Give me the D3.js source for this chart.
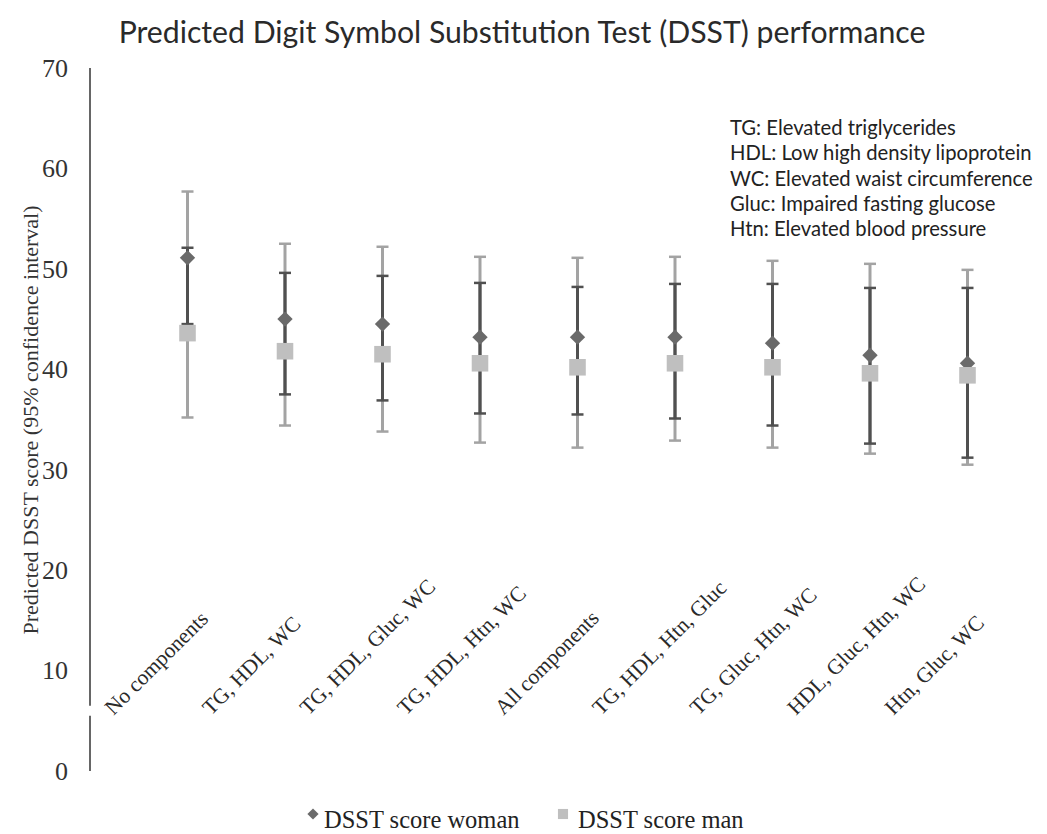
<!DOCTYPE html>
<html>
<head>
<meta charset="utf-8">
<script src="https://cdn.jsdelivr.net/npm/d3@7"></script>
<style>
  body { margin: 0; background: #fff; }
</style>
</head>
<body>
<script>
// data
var categories = ["No components", "TG, HDL, WC", "TG, HDL, Gluc, WC", "TG, HDL, Htn, WC",
  "All components", "TG, HDL, Htn, Gluc", "TG, Gluc, Htn, WC", "HDL, Gluc, Htn, WC", "Htn, Gluc, WC"];
var womanMean = [51.1, 45.0, 44.5, 43.2, 43.2, 43.2, 42.6, 41.4, 40.6];
var womanLow  = [44.5, 37.5, 36.9, 35.6, 35.5, 35.1, 34.4, 32.6, 31.2];
var womanHigh = [57.7, 52.5, 52.2, 51.2, 51.1, 51.2, 50.8, 50.5, 49.9];
var manMean = [43.6, 41.8, 41.5, 40.6, 40.2, 40.6, 40.2, 39.6, 39.4];
var manLow  = [35.2, 34.4, 33.8, 32.7, 32.2, 32.9, 32.2, 31.6, 30.5];
var manHigh = [52.1, 49.6, 49.3, 48.6, 48.2, 48.5, 48.5, 48.1, 48.1];
var yTicks = [0, 10, 20, 30, 40, 50, 60, 70];
var seriesNames = ["DSST score woman", "DSST score man"];
var notes = ["TG: Elevated triglycerides", "HDL: Low high density lipoprotein",
  "WC: Elevated waist circumference", "Gluc: Impaired fasting glucose", "Htn: Elevated blood pressure"];
var axisBreak = [5.5, 6.5];

var width = 1047, height = 834;
var serif = "'Liberation Serif', 'Times New Roman', serif";
var sans = "Lato, 'Open Sans', sans-serif";

var svg = d3.select("body").append("svg")
  .attr("width", width)
  .attr("height", height);

var x = d3.scalePoint().domain(categories).range([90, 1065]).padding(1);
var y = d3.scaleLinear().domain([0, 70]).range([771, 68]);

// title
var title = svg.append("text")
  .attr("x", 522)
  .attr("y", 43)
  .attr("text-anchor", "middle")
  .style("font-family", sans)
  .style("font-size", "24px")
  .style("fill", "#2a2a2a")
  .text("Predicted Digit Symbol Substitution Test (DSST) performance");
// stretch the font size to the width seen in the picture
var tl = title.node().getComputedTextLength();
title.style("font-size", (24 * 807 / tl) + "px");

// y axis, labels only
var yAxis = svg.append("g")
  .attr("transform", "translate(90,0)")
  .call(d3.axisLeft(y).tickValues(yTicks).tickSize(0).tickPadding(22));
yAxis.select(".domain").remove();
yAxis.selectAll("text")
  .style("font-family", serif)
  .style("font-size", "26px")
  .style("fill", "#333");

// axis line with a small break
svg.append("line")
  .attr("x1", 90).attr("x2", 90)
  .attr("y1", y(0)).attr("y2", y(axisBreak[0]))
  .attr("stroke", "#666").attr("stroke-width", 2);
svg.append("line")
  .attr("x1", 90).attr("x2", 90)
  .attr("y1", y(axisBreak[1])).attr("y2", y(70))
  .attr("stroke", "#666").attr("stroke-width", 2);

svg.append("text")
  .attr("transform", "translate(38," + 420 + ") rotate(-90)")
  .attr("text-anchor", "middle")
  .style("font-family", serif)
  .style("font-size", "22px")
  .style("fill", "#333")
  .text("Predicted DSST score (95% confidence interval)");

// category labels, slanted
svg.append("g").selectAll("text")
  .data(categories)
  .enter()
  .append("text")
  .attr("transform", d => "translate(" + (x(d) - 74) + ",716) rotate(-45)")
  .style("font-family", serif)
  .style("font-size", "21.5px")
  .style("fill", "#2a2a2a")
  .text(d => d);

// error bars: both light grey, darker where they overlap
var rows = categories.map(function(c, i) {
  return { cat: c, wm: womanMean[i], wl: womanLow[i], wh: womanHigh[i],
           mm: manMean[i], ml: manLow[i], mh: manHigh[i] };
});
var bars = svg.append("g");
var light = "#a3a3a3", dark = "#505050";

bars.selectAll(".man-bar").data(rows).enter().append("line")
  .attr("x1", d => x(d.cat)).attr("x2", d => x(d.cat))
  .attr("y1", d => y(d.ml)).attr("y2", d => y(d.mh))
  .attr("stroke", light).attr("stroke-width", 3);
bars.selectAll(".woman-bar").data(rows).enter().append("line")
  .attr("x1", d => x(d.cat)).attr("x2", d => x(d.cat))
  .attr("y1", d => y(d.wl)).attr("y2", d => y(d.wh))
  .attr("stroke", light).attr("stroke-width", 3);
bars.selectAll(".overlap").data(rows).enter().append("line")
  .attr("x1", d => x(d.cat)).attr("x2", d => x(d.cat))
  .attr("y1", d => y(Math.max(d.wl, d.ml)))
  .attr("y2", d => y(Math.min(d.wh, d.mh)))
  .attr("stroke", dark).attr("stroke-width", 3);

// caps
var caps = [];
rows.forEach(function(d) {
  var lo = Math.max(d.wl, d.ml), hi = Math.min(d.wh, d.mh);
  [d.wl, d.wh, d.ml, d.mh].forEach(function(v) {
    caps.push({ cat: d.cat, v: v, inside: v >= lo - 0.01 && v <= hi + 0.01 });
  });
});
bars.selectAll(".cap").data(caps).enter().append("line")
  .attr("x1", d => x(d.cat) - 6).attr("x2", d => x(d.cat) + 6)
  .attr("y1", d => y(d.v)).attr("y2", d => y(d.v))
  .attr("stroke", d => d.inside ? dark : light)
  .attr("stroke-width", 2.5);

// markers
var diamond = d3.symbol().type(d3.symbolDiamond2).size(150);
var square = d3.symbol().type(d3.symbolSquare2).size(350);

svg.append("g").selectAll("path")
  .data(rows).enter().append("path")
  .attr("d", diamond)
  .attr("transform", d => "translate(" + x(d.cat) + "," + y(d.wm) + ")")
  .attr("fill", "#6a6a6a");

svg.append("g").selectAll("path")
  .data(rows).enter().append("path")
  .attr("d", square)
  .attr("transform", d => "translate(" + x(d.cat) + "," + y(d.mm) + ")")
  .attr("fill", "#bfbfbf");

// notes box
var noteText = svg.append("g").selectAll("text")
  .data(notes).enter().append("text")
  .attr("x", 730)
  .attr("y", (d, i) => 135 + i * 25.3)
  .style("font-family", sans)
  .style("font-size", "18px")
  .style("fill", "#222")
  .text(d => d);
var nl = noteText.filter((d, i) => i === 2).node().getComputedTextLength();
noteText.style("font-size", (18 * 303 / nl) + "px");

// legend
var legend = svg.append("g");
legend.append("path")
  .attr("d", d3.symbol().type(d3.symbolDiamond2).size(80))
  .attr("transform", "translate(313,814)")
  .attr("fill", "#6a6a6a");
legend.append("text")
  .attr("x", 324).attr("y", 828)
  .style("font-family", serif).style("font-size", "24.5px").style("fill", "#222")
  .text(seriesNames[0]);
legend.append("path")
  .attr("d", d3.symbol().type(d3.symbolSquare2).size(130))
  .attr("transform", "translate(563,814)")
  .attr("fill", "#bfbfbf");
legend.append("text")
  .attr("x", 578).attr("y", 828)
  .style("font-family", serif).style("font-size", "24.5px").style("fill", "#222")
  .text(seriesNames[1]);
</script>
</body>
</html>
